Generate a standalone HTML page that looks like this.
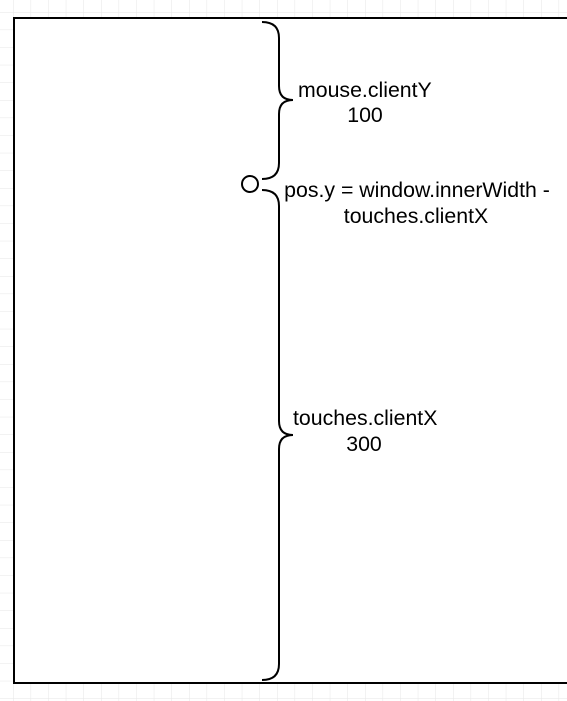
<!DOCTYPE html>
<html><head><style>
html,body{margin:0;padding:0;background:#fff;}
svg{display:block;}
text{font-family:"Liberation Sans",Arial,sans-serif;font-size:21.3px;fill:#000;}
</style></head><body>
<svg width="567" height="701" viewBox="0 0 567 701" xmlns="http://www.w3.org/2000/svg">
<defs>
<pattern id="g" width="17.6" height="17.6" patternUnits="userSpaceOnUse" x="13" y="12">
<path d="M0 0H17.6M0 0V17.6" stroke="#e6e6e6" stroke-width="1" fill="none"/>
</pattern>
</defs>
<rect width="567" height="701" fill="url(#g)"/>
<rect x="14" y="18" width="570" height="665" fill="#fff" stroke="#000" stroke-width="2"/>
<g fill="none" stroke="#000" stroke-width="2">
<path d="M262 22 Q279 22 279 38 V86 Q279 100 293 100 Q279 100 279 114 V163 Q279 179 262 179"/>
<path d="M262 190 Q279 190 279 206 V421 Q279 435 293 435 Q279 435 279 449 V664 Q279 680 262 680"/>
<circle cx="250" cy="184" r="8" fill="#fff"/>
</g>
<text x="298" y="97">mouse.clientY</text>
<text x="365" y="122" text-anchor="middle">100</text>
<text x="417" y="197" text-anchor="middle">pos.y = window.innerWidth -</text>
<text x="416" y="223" text-anchor="middle">touches.clientX</text>
<text x="293" y="425">touches.clientX</text>
<text x="364" y="451" text-anchor="middle">300</text>
</svg>
</body></html>
